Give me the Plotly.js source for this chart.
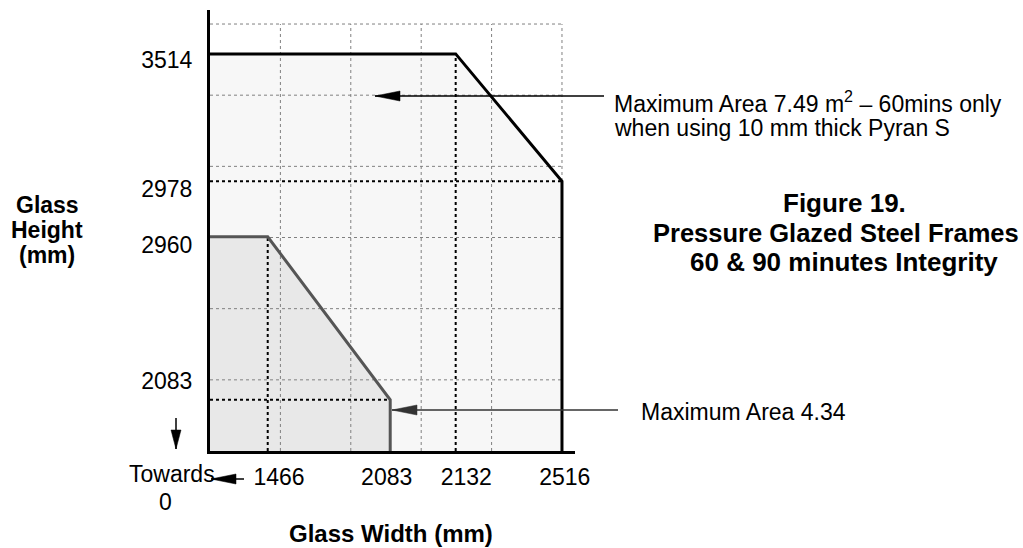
<!DOCTYPE html>
<html><head><meta charset="utf-8">
<script src="https://cdn.plot.ly/plotly-3.0.1.min.js"></script>
<style>html,body{margin:0;padding:0;background:#fff}#chart{width:1023px;height:548px}</style>
</head><body><div id="chart"></div>
<script>
// The figure is a schematic (not to scale): values are in diagram grid units,
// read from the picture, and the axis labels carry the real millimetre values.
const gridX = [1, 2, 3, 4, 5];
const gridY = [1, 2, 3, 4, 5, 6];

// Envelope 1: Maximum Area 7.49 m2 (60 mins, 10 mm Pyran S)
const area60W = [0, 0, 3.49, 5.0, 5.0];
const area60H = [0, 5.58, 5.58, 3.79, 0];
// Envelope 2: Maximum Area 4.34
const area90W = [0, 0, 0.82, 2.56, 2.56];
const area90H = [0, 3.01, 3.01, 0.72, 0];

const widthTickPos = [0.98, 2.51, 3.64, 5.04];
const widthTickText = ['1466', '2083', '2132', '2516'];
const heightTickPos = [5.49, 3.68, 2.89, 0.98];
const heightTickText = ['3514', '2978', '2960', '2083'];

const FONT = 'Liberation Sans, Arial, Helvetica, sans-serif';
const L = 210, R = 448, T = 10, B = 97, W = 1023, H = 548;
const px = x => (x - L) / (W - L - R);      // page pixel -> paper x
const py = y => (H - B - y) / (H - T - B);  // page pixel -> paper y

// grid
const gx = [], gy = [];
gridX.forEach(v => { gx.push(v, v, null); gy.push(0, gridY[gridY.length - 1], null); });
gridY.forEach(v => { gx.push(0, gridX[gridX.length - 1], null); gy.push(v, v, null); });

const traces = [
  {x: area60W, y: area60H, fill: 'toself', fillcolor: '#f7f7f7', mode: 'none', hoverinfo: 'skip'},
  {x: area90W, y: area90H, fill: 'toself', fillcolor: '#e8e8e8', mode: 'none', hoverinfo: 'skip'},
  {x: gx, y: gy, mode: 'lines', line: {color: '#808080', width: 1, dash: 'dot'}, hoverinfo: 'skip'},
  // dotted construction lines
  {x: [area60W[2], area60W[2], null, 0, area60W[3]], y: [0, area60H[2], null, area60H[3], area60H[3]],
   mode: 'lines', line: {color: '#000', width: 2, dash: 'dot'}, hoverinfo: 'skip'},
  {x: [area90W[2], area90W[2], null, 0, area90W[3]], y: [0, area90H[2], null, area90H[3], area90H[3]],
   mode: 'lines', line: {color: '#000', width: 2, dash: 'dot'}, hoverinfo: 'skip'},
  // outlines
  {x: area60W.slice(1), y: area60H.slice(1), mode: 'lines', line: {color: '#000', width: 3}, hoverinfo: 'skip'},
  {x: area90W.slice(1), y: area90H.slice(1), mode: 'lines', line: {color: '#555', width: 3}, hoverinfo: 'skip'}
];

const txt = (text, x, y, opts) => Object.assign({
  text: text, xref: 'paper', yref: 'paper', x: px(x), y: py(y), showarrow: false,
  xanchor: 'center', yanchor: 'middle', font: {family: FONT, size: 23, color: '#000'}
}, opts || {});
const bold = s => ({family: FONT, size: s, color: '#000'});

// pointer arrows: line + slim filled head (page pixels)
const shapes = [];
function arrow(x0, y0, x1, y1, color, dir) {
  shapes.push({type: 'line', xref: 'paper', yref: 'paper', x0: px(x0), y0: py(y0), x1: px(x1), y1: py(y1),
               line: {color: color, width: 1.5}, layer: 'above'});
  const head = dir === 'left' ? 'M0,0 L25,5 L25,-5 Z' : 'M0,0 L-5,19 L5,19 Z';
  shapes.push({type: 'path', xref: 'paper', yref: 'paper', xsizemode: 'pixel', ysizemode: 'pixel',
               xanchor: px(x1), yanchor: py(y1), path: head, fillcolor: color,
               line: {color: color, width: 0.5}, layer: 'above'});
}
arrow(604, 96, 375, 96, '#000', 'left');
arrow(618, 410, 392, 410, '#333', 'left');
arrow(244, 479, 211, 479, '#000', 'left');
arrow(176, 418, 176, 449, '#000', 'down');

const annotations = [
  txt('<b>Glass</b>', 47, 205, {font: bold(23)}),
  txt('<b>Height</b>', 47, 230, {font: bold(23)}),
  txt('<b>(mm)</b>', 47, 255, {font: bold(23)}),
  txt('Towards', 172, 474),
  txt('0', 165, 502),
  txt('<b>Glass Width (mm)</b>', 391, 533, {font: bold(24)}),
  txt('Maximum Area 7.49 m<sup>2</sup> – 60mins only', 612, 102, {xanchor: 'left'}),
  txt('when using 10 mm thick Pyran S', 612, 128, {xanchor: 'left'}),
  txt('Maximum Area 4.34', 639, 412, {xanchor: 'left'}),
  txt('<b>Figure 19.</b>', 844, 203, {font: bold(26)}),
  txt('<b>Pressure Glazed Steel Frames</b>', 836, 233, {font: bold(25.5)}),
  txt('<b>60 & 90 minutes Integrity</b>', 844, 262, {font: bold(26)})
];

const layout = {
  width: W, height: H, showlegend: false,
  margin: {l: L, r: R, t: T, b: B},
  paper_bgcolor: '#fff', plot_bgcolor: '#fff',
  font: {family: FONT, size: 23, color: '#000'},
  xaxis: {range: [0, 5.185], showgrid: false, zeroline: false, showline: true, linecolor: '#000', linewidth: 3,
          ticks: '', tickvals: widthTickPos, ticktext: widthTickText, ticklabelstandoff: 3,
          tickfont: {family: FONT, size: 23, color: '#000'}, fixedrange: true},
  yaxis: {range: [0, 6.197], showgrid: false, zeroline: false, showline: true, linecolor: '#000', linewidth: 3,
          ticks: '', tickvals: heightTickPos, ticktext: heightTickText, ticklabelstandoff: 10,
          tickfont: {family: FONT, size: 23, color: '#000'}, fixedrange: true},
  annotations: annotations,
  shapes: shapes
};

Plotly.newPlot('chart', traces, layout, {displayModeBar: false, staticPlot: true});
</script>
</body></html>
